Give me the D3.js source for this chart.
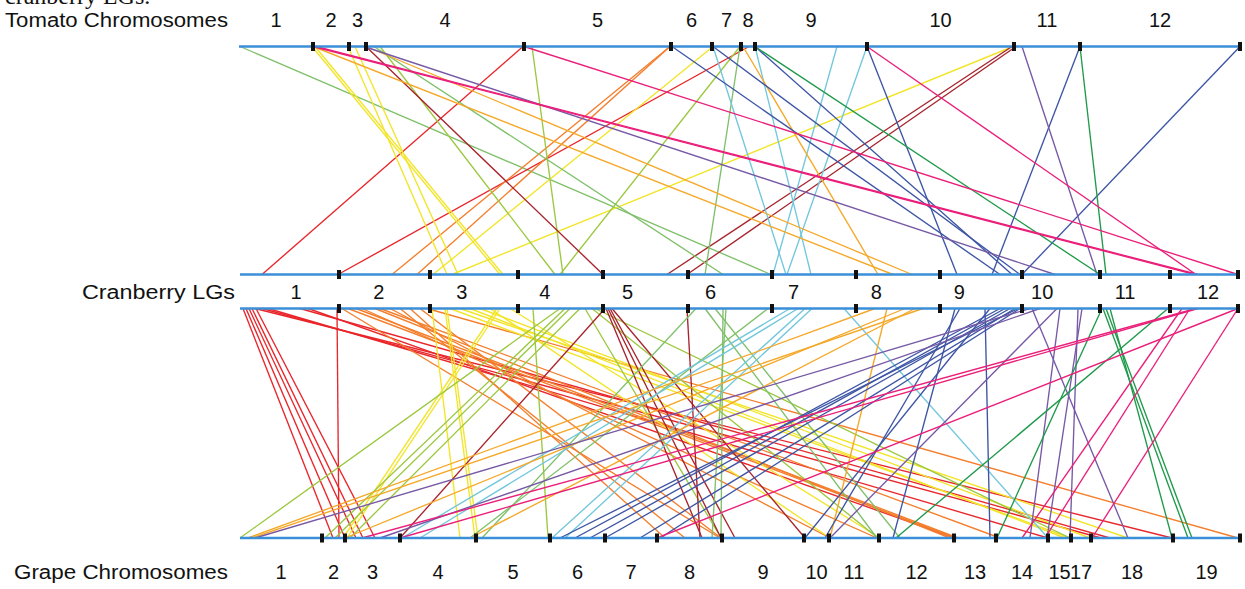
<!DOCTYPE html>
<html>
<head>
<meta charset="utf-8">
<script src="https://cdn.jsdelivr.net/npm/d3@7"></script>
<style>
  html, body { margin: 0; padding: 0; background: #fff; }
  svg { display: block; }
  text { font-family: "Liberation Sans", Arial, sans-serif; fill: #111; }
</style>
</head>
<body>
<svg id="chart" width="1245" height="589"></svg>
<script>
// Chromosome / linkage-group names and sizes (map units)
const tomatoChroms = ["1","2","3","4","5","6","7","8","9","10","11","12"];
const tomatoSizes  = [74, 36, 17, 158, 147, 41, 29, 14, 112, 147, 66, 160];

const cranberryLGs   = ["1","2","3","4","5","6","7","8","9","10","11","12"];
const cranberrySizes = [99, 91, 88, 85, 85, 84, 84, 84, 82, 78, 70, 68];

const grapeChroms = ["1","2","3","4","5","6","7","8","9","10","11","12","13","14","15","17","18","19"];
const grapeSizes  = [82, 23, 55, 76, 74, 55, 52, 65, 82, 25, 50, 75, 42, 52, 23, 20, 82, 67];

// One colour per cranberry linkage group
const lgColors = ["#e8262b","#f47e2c","#f2e528","#9cc83f","#a8232c","#7fc06a",
                  "#72c7dc","#f5a828","#3d55a4","#7658a5","#1f9a4b","#ea1f7a"];

// Syntenic links: [tomato chr, position, cranberry LG, position]
const tomatoLinks = [
  ["1",1,"6",83], ["4",157,"1",22], ["8",8,"1",98],
  ["5",146,"2",53], ["5",146,"2",78],
  ["1",73,"3",70], ["2",2,"3",73], ["2",35,"3",17], ["3",6,"3",28], ["7",1,"3",3], ["10",146,"3",22],
  ["4",14,"4",37], ["5",8,"4",45], ["7",28,"4",42],
  ["4",0,"5",0], ["10",145,"5",64], ["11",2,"5",84],
  ["7",28,"6",17], ["4",8,"6",35],
  ["7",1,"7",14], ["9",0,"7",39], ["9",82,"7",1], ["10",0,"7",15],
  ["2",0,"8",37], ["4",0,"8",56], ["8",2,"8",22],
  ["10",0,"9",17], ["6",1,"9",60], ["7",1,"9",80], ["9",0,"9",72], ["12",0,"9",52], ["12",160,"9",82],
  ["3",15,"10",33], ["11",8,"10",75],
  ["9",0,"11",0], ["12",0,"11",6],
  ["2",0,"12",25], ["2",3,"12",28], ["5",0,"12",68], ["10",0,"12",26]
];

// Syntenic links: [cranberry LG, position, grape chr, position]
const grapeLinks = [
  ["1",3,"2",11], ["1",6,"3",0], ["1",9,"3",11], ["1",12,"3",18], ["1",16,"3",30], ["1",97,"2",17],
  ["1",15,"18",81], ["1",22,"18",10], ["1",28,"14",52], ["1",60,"18",19], ["1",68,"13",1],
  ["2",3,"8",63], ["2",9,"13",1], ["2",17,"13",4], ["2",23,"11",48], ["2",36,"12",71], ["2",51,"11",1],
  ["2",61,"8",28], ["2",71,"8",8], ["2",81,"8",64], ["2",88,"19",65], ["2",41,"14",4],
  ["3",2,"4",60], ["3",15,"4",75], ["3",17,"5",2], ["3",70,"3",2], ["3",67,"2",21], ["3",20,"15",22],
  ["3",30,"18",37], ["3",40,"15",17], ["3",50,"17",19], ["3",60,"11",1], ["3",80,"12",1],
  ["4",15,"5",72], ["4",42,"1",0], ["4",47,"2",3], ["4",52,"2",13], ["4",62,"3",5], ["4",67,"8",64],
  ["4",74,"11",49], ["4",77,"15",22],
  ["5",2,"3",55], ["5",3,"8",45], ["5",5,"8",64], ["5",7,"9",13], ["5",9,"10",1], ["5",84,"8",43],
  ["6",8,"5",6], ["6",35,"8",64], ["6",38,"8",55], ["6",17,"11",48], ["6",80,"4",70], ["6",27,"12",21],
  ["7",33,"6",2], ["7",40,"6",15], ["7",18,"4",2], ["7",72,"14",52], ["7",26,"4",20],
  ["8",19,"1",8], ["8",67,"1",12], ["8",49,"3",0], ["8",31,"11",1], ["8",59,"4",70],
  ["9",60,"6",25], ["9",65,"6",40], ["9",70,"7",0], ["9",75,"7",35], ["9",80,"8",3], ["9",50,"10",1],
  ["9",15,"12",14], ["9",78,"6",10], ["9",45,"13",36], ["9",20,"10",21],
  ["10",8,"1",15], ["10",18,"3",35], ["10",10,"18",37], ["10",56,"15",22], ["10",60,"14",51],
  ["10",38,"14",34], ["10",35,"11",1],
  ["11",3,"19",15], ["11",6,"19",19], ["11",2,"14",1], ["11",68,"12",17], ["11",10,"18",81],
  ["12",26,"3",17], ["12",28,"4",0], ["12",68,"8",0], ["12",12,"14",26], ["12",68,"18",1], ["12",20,"14",49]
];

// ---------- layout ----------
const svg = d3.select("#chart");
const Y = { tomato: 46.5, cranTop: 274.5, cranBot: 308.5, grape: 538 };

function genome(names, sizes, x0, x1) {
  const offsets = d3.cumsum([0, ...sizes]);
  const total = offsets[offsets.length - 1];
  const x = d3.scaleLinear().domain([0, total]).range([x0, x1]);
  const start = new Map(names.map((n, i) => [n, offsets[i]]));
  return {
    names, sizes, x, total,
    pos: (chr, p) => x(start.get(chr) + p),
    ends: names.map((n, i) => x(offsets[i + 1])),
    mids: names.map((n, i) => x(offsets[i] + sizes[i] / 2))
  };
}

const tomato = genome(tomatoChroms, tomatoSizes, 239, 1240);
const cran   = genome(cranberryLGs, cranberrySizes, 240, 1238);
const grape  = genome(grapeChroms, grapeSizes, 240, 1240);
const lgColor = d3.scaleOrdinal().domain(cranberryLGs).range(lgColors);

// ---------- links ----------
const linkG = svg.append("g").attr("fill", "none").attr("stroke-width", 1.35);

linkG.selectAll("line.top").data(tomatoLinks).join("line")
  .attr("class", "top")
  .attr("x1", d => tomato.pos(d[0], d[1])).attr("y1", Y.tomato)
  .attr("x2", d => cran.pos(d[2], d[3])).attr("y2", Y.cranTop)
  .attr("stroke", d => lgColor(d[2]));

linkG.selectAll("line.bottom").data(grapeLinks).join("line")
  .attr("class", "bottom")
  .attr("x1", d => cran.pos(d[0], d[1])).attr("y1", Y.cranBot)
  .attr("x2", d => grape.pos(d[2], d[3])).attr("y2", Y.grape)
  .attr("stroke", d => lgColor(d[0]));

// ---------- tracks with chromosome boundary ticks ----------
function track(g, y) {
  svg.append("line")
    .attr("x1", g.x.range()[0]).attr("x2", g.x.range()[1])
    .attr("y1", y).attr("y2", y)
    .attr("stroke", "#3b8fd9").attr("stroke-width", 2.4);
  svg.append("g").selectAll("rect").data(g.ends).join("rect")
    .attr("x", d => d - 2).attr("y", y - 4.5)
    .attr("width", 4).attr("height", 9)
    .attr("fill", "#111");
}
track(tomato, Y.tomato);
track(cran, Y.cranTop);
track(cran, Y.cranBot);
track(grape, Y.grape);

// ---------- labels ----------
const labelSize = 20;
function numberLabels(names, xs, baseline) {
  svg.append("g").selectAll("text").data(names).join("text")
    .attr("x", (d, i) => xs[i]).attr("y", baseline)
    .attr("text-anchor", "middle")
    .attr("font-size", labelSize)
    .text(d => d);
}
numberLabels(tomatoChroms, tomato.mids, 27);
const cranLabelX = d3.scalePoint().domain(cranberryLGs).range([296, 1208]);
numberLabels(cranberryLGs, cranberryLGs.map(d => cranLabelX(d)), 298.5);
numberLabels(grapeChroms, grape.mids, 579);

function title(txt, x, y, len) {
  svg.append("text").attr("x", x).attr("y", y)
    .attr("font-size", labelSize)
    .attr("textLength", len).attr("lengthAdjust", "spacingAndGlyphs")
    .text(txt);
}
title("Tomato Chromosomes", 5, 27, 223);
title("Cranberry LGs", 82, 298.5, 153);
title("Grape Chromosomes", 14, 579, 214);

// caption line running off the top edge
svg.append("text").attr("x", 5).attr("y", 3.5)
  .style("font-family", "'Liberation Serif', 'Times New Roman', serif")
  .attr("font-size", 24)
  .text("cranberry LGs.");
</script>
</body>
</html>
